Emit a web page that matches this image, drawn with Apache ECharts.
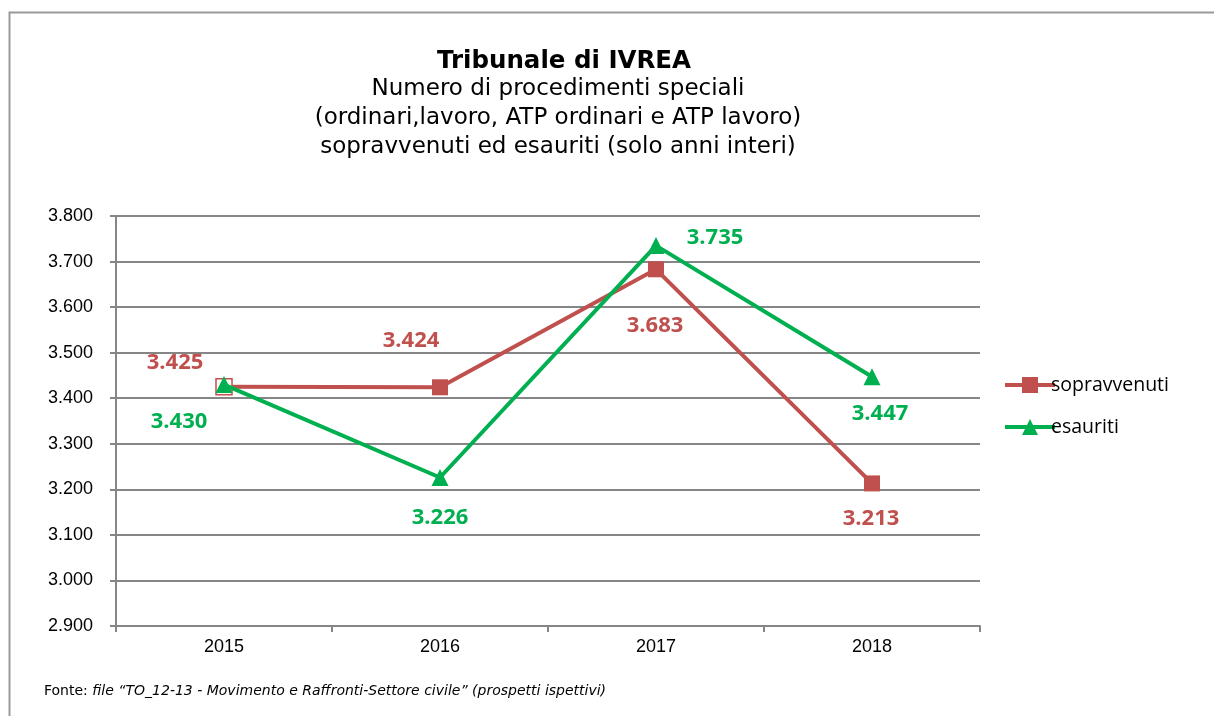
<!DOCTYPE html>
<html>
<head>
<meta charset="utf-8">
<script src="https://cdn.jsdelivr.net/npm/echarts@6/dist/echarts.min.js"></script>
<style>
html,body{margin:0;padding:0;background:#fff;}
#chart{width:1214px;height:716px;}
</style>
</head>
<body>
<div id="chart"></div>
<script>
const categories = ['2015', '2016', '2017', '2018'];
const sopravvenuti = [3425, 3424, 3683, 3213];
const esauriti = [3430, 3226, 3735, 3447];
const yTicks = [2900, 3000, 3100, 3200, 3300, 3400, 3500, 3600, 3700, 3800];

const sopOffsets = [[-49, -24], [-29, -47], [-1, 56], [-1, 35]];
const esaOffsets = [[-45, 37], [0, 40], [59, -8], [8, 37]];

function itFmt(v) {
  return String(Math.round(v)).replace(/\B(?=(\d{3})+(?!\d))/g, '.');
}

const RED = '#C0504D';
const GREEN = '#00B050';
const GRID = '#868686';

const chart = echarts.init(document.getElementById('chart'));

const sopData = sopravvenuti.map((v, i) => {
  const d = {
    value: v,
    label: { offset: sopOffsets[i] }
  };
  if (i === 0) {
    d.itemStyle = { color: '#fff', borderColor: RED, borderWidth: 1.5 };
  }
  return d;
});
const esaData = esauriti.map((v, i) => ({
  value: v,
  label: { offset: esaOffsets[i] }
}));

const labelBase = {
  show: true,
  position: 'inside',
  fontFamily: 'Open Sans',
  fontWeight: 'bold',
  fontSize: 22,
  formatter: p => itFmt(p.value)
};

chart.setOption({
  animation: false,
  backgroundColor: '#fff',
  title: [
    {
      text: 'Tribunale di IVREA',
      left: 559, top: 44, textAlign: 'center',
      textStyle: { fontFamily: 'DejaVu Sans', fontWeight: 'bold', fontSize: 24.5, color: '#000' }
    },
    {
      text: 'Numero di procedimenti speciali\n(ordinari,lavoro, ATP ordinari e ATP lavoro)\nsopravvenuti ed esauriti (solo anni interi)',
      left: 553, top: 70, textAlign: 'center',
      textStyle: { fontFamily: 'DejaVu Sans', fontWeight: 'normal', fontSize: 23, lineHeight: 29, color: '#000' }
    }
  ],
  graphic: [
    {
      type: 'rect', silent: true, z: -1,
      shape: { x: 9.5, y: 12.5, width: 1230, height: 730 },
      style: { fill: 'none', stroke: '#999', lineWidth: 2 }
    },
    {
      type: 'text', left: 44, top: 684,
      style: {
        text: '{n|Fonte: }{i|file \u201cTO_12-13 - Movimento e Raffronti-Settore civile\u201d (prospetti ispettivi)}',
        rich: {
          n: { fontFamily: 'DejaVu Sans', fontSize: 14, fill: '#000' },
          i: { fontFamily: 'DejaVu Sans', fontStyle: 'italic', fontSize: 14, fill: '#000' }
        }
      }
    }
  ],
  legend: {
    orient: 'vertical',
    left: 998, top: 370,
    itemWidth: 50, itemHeight: 20, itemGap: 22,
    textStyle: { fontFamily: 'Open Sans', fontSize: 19.5, color: '#000', padding: [0, 0, 0, -9] },
    data: [
      { name: 'sopravvenuti', lineStyle: { width: 4 } },
      { name: 'esauriti', lineStyle: { width: 4 } }
    ]
  },
  grid: { left: 116, right: 234, top: 216, bottom: 90, containLabel: false },
  xAxis: {
    type: 'category',
    data: categories,
    boundaryGap: true,
    axisLine: { show: true, lineStyle: { color: GRID, width: 2 } },
    axisTick: { show: true, length: 6, lineStyle: { color: GRID, width: 2 } },
    axisLabel: { margin: 12, fontFamily: 'Liberation Sans', fontSize: 18, color: '#000' },
    splitLine: { show: false }
  },
  yAxis: {
    type: 'value',
    min: yTicks[0], max: yTicks[yTicks.length - 1], interval: 100,
    axisLine: { show: true, lineStyle: { color: GRID, width: 2 } },
    axisTick: { show: true, length: 6, lineStyle: { color: GRID, width: 2 } },
    axisLabel: { margin: 23, fontFamily: 'Liberation Sans', fontSize: 18, color: '#000', formatter: v => itFmt(v) },
    splitLine: { show: true, lineStyle: { color: GRID, width: 2 } }
  },
  series: [
    {
      name: 'sopravvenuti', type: 'line',
      data: sopData,
      symbol: 'rect', symbolSize: 16,
      lineStyle: { color: RED, width: 4 },
      itemStyle: { color: RED },
      label: Object.assign({}, labelBase, { color: RED }),
      z: 2
    },
    {
      name: 'esauriti', type: 'line',
      data: esaData,
      symbol: 'triangle', symbolSize: 17,
      lineStyle: { color: GREEN, width: 4 },
      itemStyle: { color: GREEN },
      label: Object.assign({}, labelBase, { color: GREEN }),
      z: 3
    }
  ]
});
</script>
</body>
</html>
